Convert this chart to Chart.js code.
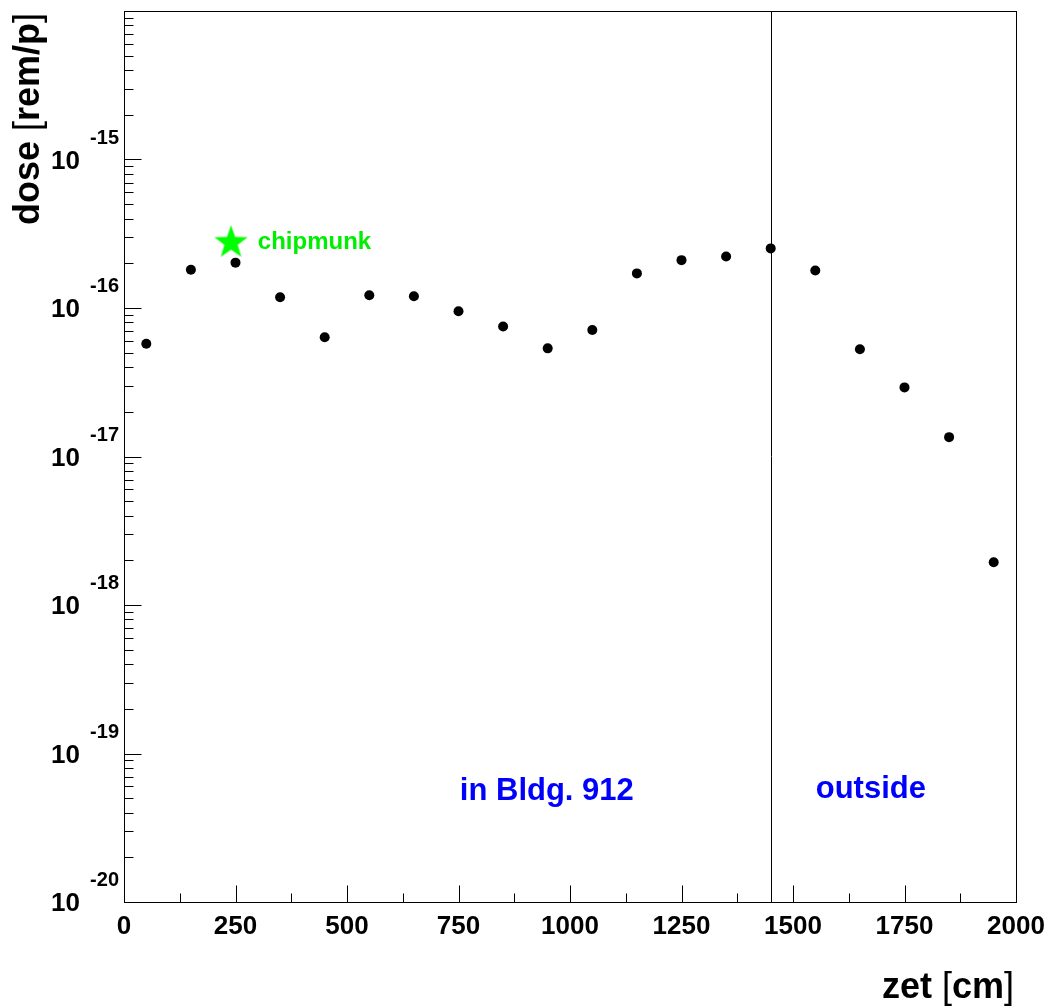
<!DOCTYPE html>
<html lang="en">
<head>
<meta charset="UTF-8">
<title>dose vs zet</title>
<script src="https://cdn.jsdelivr.net/npm/chart.js"></script>
<style>
  body { margin: 0; background: #fff; }
  #wrap { width: 1051px; height: 1008px; }
</style>
</head>
<body>
<div id="wrap"><canvas id="doseChart" width="1051" height="1008"></canvas></div>
<script>
// positions along the line (cm) and dose per proton
const zet = [50, 150, 250, 350, 450, 550, 650, 750, 850, 950,
             1050, 1150, 1250, 1350, 1450, 1550, 1650, 1750, 1850, 1950];
const dose = [5.75e-17, 1.81e-16, 2.02e-16, 1.18e-16, 6.35e-17, 1.22e-16, 1.2e-16, 9.5e-17, 7.5e-17, 5.35e-17,
              7.1e-17, 1.71e-16, 2.1e-16, 2.22e-16, 2.52e-16, 1.79e-16, 5.27e-17, 2.92e-17, 1.35e-17, 1.94e-18];

// chipmunk monitor
const chipmunkZet = [240];
const chipmunkDose = [2.83e-16];

// axis ticks
const xTicks = [0, 250, 500, 750, 1000, 1250, 1500, 1750, 2000];
const yDecades = [-20, -19, -18, -17, -16, -15];
const dividerZet = 1450;

// labels placed in data coordinates (like TLatex)
const notes = [
  { text: 'in Bldg. 912', x: 753, y: 4.9e-20, color: '#0000ff', size: 31 },
  { text: 'outside', x: 1551, y: 5.0e-20, color: '#0000ff', size: 31 },
  { text: 'chipmunk', x: 300, y: 2.48e-16, color: '#00ee00', size: 24 }
];

const FONT = '"Liberation Sans", Arial, Helvetica, sans-serif';

// filled star image for the chipmunk marker
function makeStar(r, color) {
  const c = document.createElement('canvas');
  c.width = c.height = Math.ceil(r * 2 + 2);
  const g = c.getContext('2d');
  const cx = c.width / 2, cy = c.height / 2 + r * 0.1;
  g.beginPath();
  for (let i = 0; i < 10; i++) {
    const rad = i % 2 === 0 ? r : r * 0.4;
    const a = -Math.PI / 2 + i * Math.PI / 5;
    const px = cx + rad * Math.cos(a), py = cy + rad * Math.sin(a);
    if (i === 0) g.moveTo(px, py); else g.lineTo(px, py);
  }
  g.closePath();
  g.fillStyle = color;
  g.fill();
  return c;
}

// draw runs of text with mixed weight, starting at x
function drawRuns(ctx, runs, x, y, size) {
  runs.forEach(r => {
    ctx.font = (r.bold ? 'bold ' : '') + size + 'px ' + FONT;
    ctx.fillText(r.t, x, y);
    x += ctx.measureText(r.t).width;
  });
}
function runsWidth(ctx, runs, size) {
  return runs.reduce((w, r) => {
    ctx.font = (r.bold ? 'bold ' : '') + size + 'px ' + FONT;
    return w + ctx.measureText(r.t).width;
  }, 0);
}

// ROOT-like frame, ticks and labels
const rootAxes = {
  id: 'rootAxes',
  beforeDatasetsDraw(chart) {
    const { ctx, chartArea: a, scales: { x } } = chart;
    const px = Math.round(x.getPixelForValue(dividerZet)) + 0.5;
    ctx.save();
    ctx.strokeStyle = '#000';
    ctx.lineWidth = 1;
    ctx.beginPath();
    ctx.moveTo(px, a.top);
    ctx.lineTo(px, a.bottom);
    ctx.stroke();
    ctx.restore();
  },
  afterDraw(chart) {
    const { ctx, chartArea: a, scales: { x, y } } = chart;
    const L = Math.floor(a.left) + 0.5, R = Math.floor(a.right) + 0.5;
    const T = Math.floor(a.top) + 0.5, B = Math.floor(a.bottom) + 0.5;
    ctx.save();
    ctx.strokeStyle = '#000';
    ctx.lineWidth = 1;
    ctx.strokeRect(L, T, R - L, B - T);

    ctx.beginPath();
    // x ticks: major every 250, one minor between
    xTicks.forEach((v, i) => {
      const p = Math.round(x.getPixelForValue(v)) + 0.5;
      ctx.moveTo(p, B); ctx.lineTo(p, B - 17);
      if (i < xTicks.length - 1) {
        const m = Math.round(x.getPixelForValue((v + xTicks[i + 1]) / 2)) + 0.5;
        ctx.moveTo(m, B); ctx.lineTo(m, B - 9);
      }
    });
    // y ticks: decades plus 2..9
    yDecades.forEach(d => {
      const p = Math.round(y.getPixelForValue(Math.pow(10, d))) + 0.5;
      ctx.moveTo(L, p); ctx.lineTo(L + 17, p);
      for (let k = 2; k <= 9; k++) {
        const q = Math.round(y.getPixelForValue(k * Math.pow(10, d))) + 0.5;
        ctx.moveTo(L, q); ctx.lineTo(L + 9, q);
      }
    });
    ctx.stroke();

    ctx.fillStyle = '#000';
    // x tick labels
    ctx.font = 'bold 26px ' + FONT;
    ctx.textAlign = 'center';
    ctx.textBaseline = 'alphabetic';
    xTicks.forEach(v => ctx.fillText(String(v), x.getPixelForValue(v), 934));

    // y tick labels 10^d
    yDecades.forEach(d => {
      const p = y.getPixelForValue(Math.pow(10, d));
      ctx.textAlign = 'right';
      ctx.font = 'bold 26px ' + FONT;
      ctx.fillText('10', 80, p + 9);
      ctx.font = 'bold 20px ' + FONT;
      ctx.fillText(String(d), 119, p - 16);
    });

    // axis titles
    ctx.textAlign = 'left';
    const xt = [{ t: 'zet ', bold: true }, { t: '[', bold: false }, { t: 'cm', bold: true }, { t: ']', bold: false }];
    drawRuns(ctx, xt, 1014 - runsWidth(ctx, xt, 36), 998, 36);
    const yt = [{ t: 'dose ', bold: true }, { t: '[', bold: false }, { t: 'rem/p', bold: true }, { t: ']', bold: false }];
    ctx.save();
    ctx.translate(39, 13);
    ctx.rotate(-Math.PI / 2);
    drawRuns(ctx, yt, -runsWidth(ctx, yt, 36), 0, 36);
    ctx.restore();

    // notes
    notes.forEach(n => {
      ctx.fillStyle = n.color;
      ctx.font = 'bold ' + n.size + 'px ' + FONT;
      ctx.textAlign = 'left';
      ctx.fillText(n.text, x.getPixelForValue(n.x), y.getPixelForValue(n.y));
    });
    ctx.restore();
  }
};

const ctx = document.getElementById('doseChart').getContext('2d');
new Chart(ctx, {
  type: 'scatter',
  data: {
    datasets: [
      {
        label: 'dose',
        data: zet.map((z, i) => ({ x: z, y: dose[i] })),
        pointRadius: 5,
        pointHoverRadius: 5,
        backgroundColor: '#000',
        borderWidth: 0
      },
      {
        label: 'chipmunk',
        data: chipmunkZet.map((z, i) => ({ x: z, y: chipmunkDose[i] })),
        pointStyle: makeStar(17.5, '#00ff00'),
        pointRadius: 18,
        borderWidth: 0
      }
    ]
  },
  options: {
    responsive: false,
    animation: false,
    devicePixelRatio: 1,
    layout: { autoPadding: false, padding: { left: 124, right: 35, top: 11, bottom: 106 } },
    plugins: { legend: { display: false }, tooltip: { enabled: false } },
    scales: {
      x: { type: 'linear', min: 0, max: 2000, display: false },
      y: { type: 'logarithmic', min: 1e-20, max: 1e-14, display: false }
    }
  },
  plugins: [rootAxes]
});
</script>
</body>
</html>
